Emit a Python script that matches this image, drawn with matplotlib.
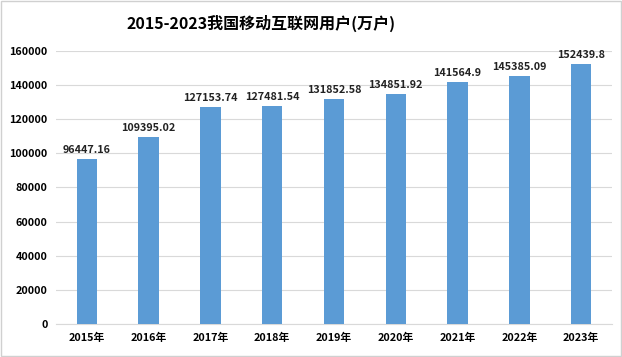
import numpy as np
import matplotlib
matplotlib.use("Agg")
import matplotlib.pyplot as plt

plt.rcParams['font.family'] = ['Noto Sans CJK SC', 'DejaVu Sans']

years = ["2015年", "2016年", "2017年", "2018年", "2019年", "2020年", "2021年", "2022年", "2023年"]
users = [96447.16, 109395.02, 127153.74, 127481.54, 131852.58, 134851.92, 141564.9, 145385.09, 152439.8]
value_labels = ["96447.16", "109395.02", "127153.74", "127481.54", "131852.58",
                "134851.92", "141564.9", "145385.09", "152439.8"]
yticks = [0, 20000, 40000, 60000, 80000, 100000, 120000, 140000, 160000]

fig = plt.figure(figsize=(6.22, 3.57), dpi=100)
ax = fig.add_axes([0.090, 0.0924, 0.894, 0.765])

x = np.arange(len(years))
ax.bar(x, users, width=0.33, color="#5B9BD5", zorder=3)
for xi, v, lab in zip(x, users, value_labels):
    ax.text(xi, v + 2500, lab, ha="center", va="bottom", fontsize=7.8,
            fontweight="bold", color="#222222")

ax.set_xlim(-0.5, len(years) - 0.5)
ax.set_ylim(0, 160000)
ax.set_yticks(yticks)
ax.set_yticklabels([str(t) for t in yticks], fontsize=7.8, fontweight="bold")
ax.set_xticks(x)
ax.set_xticklabels(years, fontsize=7.8, fontweight="bold")
ax.yaxis.grid(True, color="#d9d9d9", linewidth=0.8, zorder=0)
ax.tick_params(axis="both", length=0, pad=6)
for s in ["top", "right", "left"]:
    ax.spines[s].set_visible(False)
ax.spines["bottom"].set_color("#d9d9d9")

fig.text(261 / 622, 0.935, "2015-2023我国移动互联网用户(万户)", ha="center", va="center",
         fontsize=11.5, fontweight="bold")

fig.patches.append(plt.Rectangle((0.002, 0.003), 0.996, 0.994, transform=fig.transFigure,
                                 fill=False, edgecolor="#d0d0d0", linewidth=1))

fig.savefig("out.png", dpi=100)
